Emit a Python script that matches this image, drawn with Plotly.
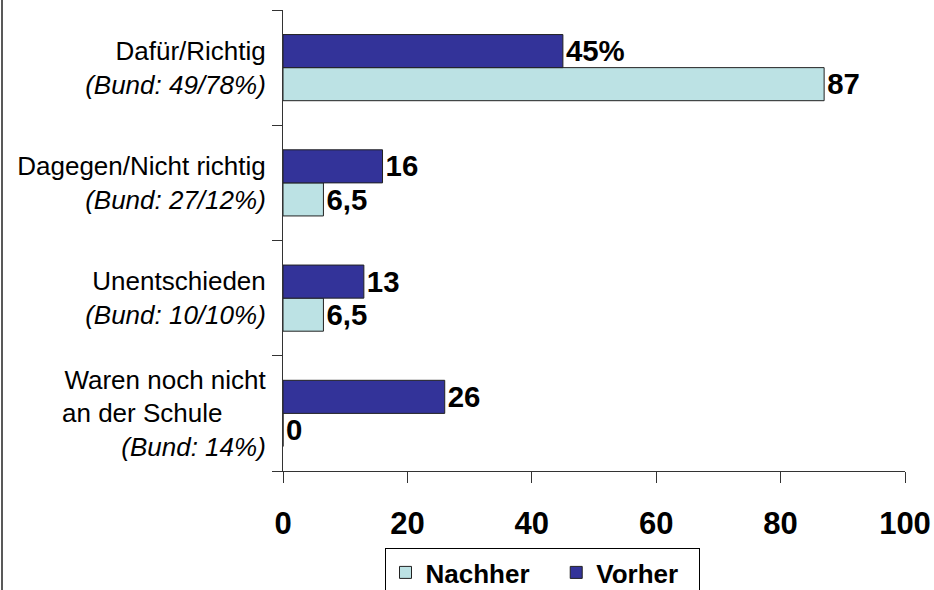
import plotly.graph_objects as go

categories = [
    "Dafür/Richtig<br><i>(Bund: 49/78%)</i>",
    "Dagegen/Nicht richtig<br><i>(Bund: 27/12%)</i>",
    "Unentschieden<br><i>(Bund: 10/10%)</i>",
    "Waren noch nicht<br>an der Schule\u00a0\u00a0\u00a0\u00a0\u00a0\u00a0<br><i>(Bund: 14%)</i>",
]
vorher = [45, 16, 13, 26]
nachher = [87, 6.5, 6.5, 0]
vorher_labels = ["45%", "16", "13", "26"]
nachher_labels = ["87", "6,5", "6,5", "0"]
series_names = ["Nachher\u00a0\u00a0\u00a0", "Vorher\u00a0\u00a0"]
x_ticks = [0, 20, 40, 60, 80, 100]

W, H = 934, 590
ML, MR, MT, MB = 283, 29, 10, 119
pw, ph = W - ML - MR, H - MT - MB

label_font = dict(family="Liberation Sans, Arial", size=32, color="black", weight="bold")

fig = go.Figure()
fig.add_trace(go.Bar(
    name=series_names[0], y=categories, x=nachher, orientation="h",
    marker=dict(color="#BCE2E4", line=dict(color="#222222", width=1)),
    text=nachher_labels, textposition="outside", textfont=label_font,
    cliponaxis=False, hoverinfo="skip",
))
fig.add_trace(go.Bar(
    name=series_names[1], y=categories, x=vorher, orientation="h",
    marker=dict(color="#333399", line=dict(color="#222222", width=1)),
    text=vorher_labels, textposition="outside", textfont=label_font,
    cliponaxis=False, hoverinfo="skip",
))

fig.update_layout(
    width=W, height=H,
    margin=dict(l=ML, r=MR, t=MT, b=MB, autoexpand=False),
    paper_bgcolor="white", plot_bgcolor="white",
    barmode="group", bargap=0.426, bargroupgap=0,
    showlegend=True,
    legend=dict(
        orientation="h", x=(542 - ML) / pw, xanchor="center",
        y=-(548 - (MT + ph)) / ph, yanchor="top",
        bordercolor="black", borderwidth=1,
        font=dict(family="Liberation Sans, Arial", size=26, color="black", weight="bold"),
    ),
    xaxis=dict(
        range=[0, 100], tickvals=x_ticks, showgrid=False, zeroline=False,
        showline=True, linecolor="#333333", linewidth=1,
        ticks="outside", ticklen=11, tickcolor="#333333",
        tickfont=dict(family="Liberation Sans, Arial", size=31, color="black", weight="bold"),
        ticklabelstandoff=14,
    ),
    yaxis=dict(
        type="category", categoryorder="array", categoryarray=categories[::-1],
        showgrid=False, zeroline=False,
        showline=True, linecolor="#333333", linewidth=1,
        ticks="outside", ticklen=10, tickcolor="#333333", tickson="boundaries",
        tickfont=dict(family="Liberation Sans, Arial", size=26, color="black"),
        ticklabelstandoff=11,
    ),
    shapes=[dict(
        type="line", xref="paper", yref="paper",
        x0=(2 - ML) / pw, x1=(2 - ML) / pw,
        y0=(H - MT) / ph, y1=-(MB) / ph,
        line=dict(color="#222222", width=1.5),
    )],
)

fig.write_html(
    "out.html",
    config={"displayModeBar": False},
    post_script="document.body.style.margin='0';document.body.style.overflow='hidden';",
)
